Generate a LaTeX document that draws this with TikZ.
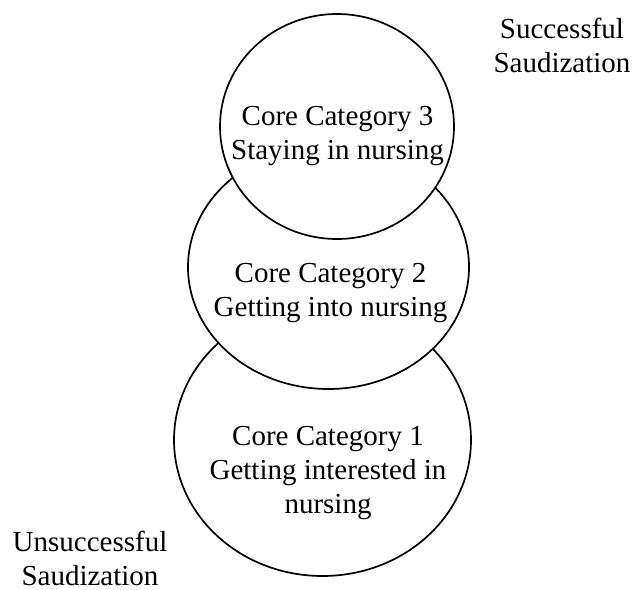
\documentclass[tikz,border=0pt]{standalone}
\usepackage{fontspec}
\setmainfont{Liberation Serif}
\usetikzlibrary{shapes.geometric}
\begin{document}
\begin{tikzpicture}[x=1pt,y=-1pt,
  circ/.style={draw=black,fill=white,line width=1.7pt,ellipse,inner sep=0pt},
  txt/.style={align=center,anchor=base,inner sep=0pt,font=\fontsize{29}{34}\selectfont}]
\useasboundingbox (0,0) rectangle (634,589);
\node[circ,minimum width=297pt,minimum height=272pt] (c1) at (322.5,440) {};
\node[circ,minimum width=281pt,minimum height=244pt] (c2) at (328.5,267) {};
\node[circ,minimum width=234pt,minimum height=225pt] (c3) at (337,126.5) {};
\node[txt] (t3) at (337.5,159) {Core Category 3\\Staying in nursing};
\node[txt] (t2) at (330.5,316) {Core Category 2\\Getting into nursing};
\node[txt] (t1) at (328,513) {Core Category 1\\Getting interested in\\nursing};
\node[txt] (succ) at (562,72) {Successful\\Saudization};
\node[txt] (unsucc) at (90,585) {Unsuccessful\\Saudization};
\end{tikzpicture}
\end{document}
